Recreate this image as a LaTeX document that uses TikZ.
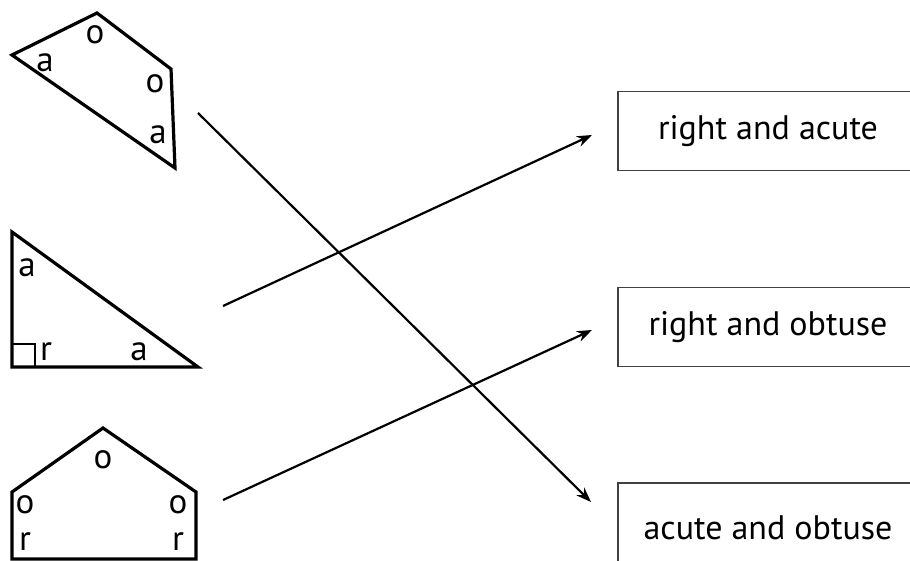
\documentclass[tikz,border=0pt]{standalone}
\usepackage{fontspec}
\setmainfont{PT Sans}
\usetikzlibrary{arrows.meta}
\begin{document}
\begin{tikzpicture}[x=1pt,y=-1pt,
  shapeline/.style={line width=3.2pt,line join=miter},
  lbl/.style={inner sep=0pt,font=\fontsize{35}{40}\selectfont},
  answer/.style={draw=black!75,line width=1.8pt,minimum width=300pt,minimum height=79pt,inner sep=0pt,font=\fontsize{34}{40}\selectfont},
  conn/.style={line width=2.2pt,-{Stealth[length=15pt,width=11pt]}}]
\useasboundingbox (0,0) rectangle (910,561);
\clip (0,0) rectangle (910,561);
% quadrilateral
\draw[shapeline] (12,55) -- (97,13) -- (171,69) -- (175,168) -- cycle;
\node[lbl] (q1) at (45,63) {a};
\node[lbl] (q2) at (95,35) {o};
\node[lbl] (q3) at (155,84) {o};
\node[lbl] (q4) at (158,135) {a};
% right triangle
\draw[shapeline] (12,232) -- (12,367) -- (198,367) -- cycle;
\draw[line width=1.5pt] (12,344) -- (35,344) -- (35,367);
\node[lbl] (t1) at (27,268) {a};
\node[lbl] (t2) at (46,352) {r};
\node[lbl] (t3) at (139,352) {a};
% pentagon
\draw[shapeline] (12,559) -- (12,492) -- (103,428) -- (196,492) -- (196,559) -- cycle;
\node[lbl] (p1) at (103,460) {o};
\node[lbl] (p2) at (25,505) {o};
\node[lbl] (p3) at (25,542) {r};
\node[lbl] (p4) at (178,505) {o};
\node[lbl] (p5) at (178,542) {r};
% answer boxes
\node[answer] (b1) at (768,131) {right and acute};
\node[answer] (b2) at (768,327) {right and obtuse};
\node[answer,minimum height=90pt] (b3) at (768,528) {acute and obtuse};
% connector ends
\coordinate (s1) at (198,113);
\coordinate (s2) at (223,306);
\coordinate (s3) at (223,500);
\coordinate (e1) at (591,502);
\coordinate (e2) at (592,135);
\coordinate (e3) at (592,330);
\draw[conn] (s1) -- (e1);
\draw[conn] (s2) -- (e2);
\draw[conn] (s3) -- (e3);
\end{tikzpicture}
\end{document}
